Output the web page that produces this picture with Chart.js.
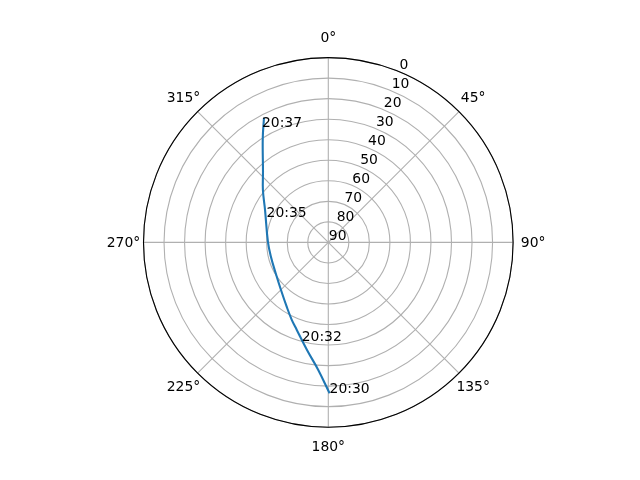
<!DOCTYPE html>
<html><head><meta charset="utf-8">
<script src="https://cdn.jsdelivr.net/npm/chart.js@4/dist/chart.umd.min.js"></script>
<style>html,body{margin:0;padding:0;background:#fff;}canvas{display:block}</style>
</head><body>
<canvas id="c" width="640" height="480"></canvas>
<script>
// Satellite pass track (azimuth in degrees clockwise from north, elevation in degrees)
const trackAzimuth   = [179.5, 184.5, 191.2, 199.8, 205.4, 212.9, 224.8, 239.6, 256.0, 270.4, 297.1, 308.7, 317.3, 327.8, 332.7];
const trackElevation = [16.5,  27.7,  36.6,  44.7,  48.4,  52.7,  57.3,  60.3,  61.2,  60.6,  55.4,  49.2,  43.1,  30.1,  21.7];
// Time annotations
const timeLabels     = ['20:30', '20:32', '20:35', '20:37'];
const labelAzimuth   = [179.5, 195.1, 292.3, 330.2];
const labelElevation = [16.5, 40.4, 57.5, 25.0];
// Axis ticks
const radialTicks = [0, 10, 20, 30, 40, 50, 60, 70, 80, 90];
const thetaTicks  = [0, 45, 90, 135, 180, 225, 270, 315];
const radialLabelAngle = 22.5;

const FONT = '13.9px "DejaVu Sans"';

function toXY(az, el) {
  const r = 90 - el;
  const a = az * Math.PI / 180;
  return { x: r * Math.sin(a), y: r * Math.cos(a) };
}

const trackData = trackAzimuth.map((az, i) => toXY(az, trackElevation[i]));

const polarPlugin = {
  id: 'polarGrid',
  beforeDatasetsDraw(chart) {
    const { ctx, scales: { x, y } } = chart;
    const cx = x.getPixelForValue(0), cy = y.getPixelForValue(0);
    ctx.save();
    ctx.strokeStyle = '#b0b0b0';
    ctx.lineWidth = 1.1;
    radialTicks.forEach(v => {
      const d = 90 - v;
      if (d <= 0) return;
      const rp = x.getPixelForValue(d) - cx;
      ctx.beginPath();
      ctx.arc(cx, cy, rp, 0, 2 * Math.PI);
      ctx.stroke();
    });
    thetaTicks.forEach(t => {
      const p = toXY(t, 0);
      ctx.beginPath();
      ctx.moveTo(cx, cy);
      ctx.lineTo(x.getPixelForValue(p.x), y.getPixelForValue(p.y));
      ctx.stroke();
    });
    ctx.restore();
  },
  afterDatasetsDraw(chart) {
    const { ctx, scales: { x, y } } = chart;
    const cx = x.getPixelForValue(0), cy = y.getPixelForValue(0);
    const R = x.getPixelForValue(90) - cx;
    ctx.save();
    // spine
    ctx.strokeStyle = '#000';
    ctx.lineWidth = 1.1;
    ctx.beginPath();
    ctx.arc(cx, cy, R, 0, 2 * Math.PI);
    ctx.stroke();
    ctx.fillStyle = '#000';
    ctx.font = FONT;
    // radial tick labels
    ctx.textAlign = 'left';
    ctx.textBaseline = 'alphabetic';
    radialTicks.forEach(v => {
      const p = toXY(radialLabelAngle, v);
      ctx.fillText(String(v), x.getPixelForValue(p.x) + 0.5, y.getPixelForValue(p.y) - 2.5);
    });
    // theta tick labels
    ctx.textAlign = 'center';
    ctx.textBaseline = 'middle';
    thetaTicks.forEach(t => {
      const a = t * Math.PI / 180;
      const rr = R + 20;
      ctx.fillText(t + '°', cx + rr * Math.sin(a), cy - rr * Math.cos(a) + 0.5);
    });
    // time annotations
    ctx.textAlign = 'left';
    ctx.textBaseline = 'alphabetic';
    timeLabels.forEach((lbl, i) => {
      const p = toXY(labelAzimuth[i], labelElevation[i]);
      ctx.fillText(lbl, x.getPixelForValue(p.x), y.getPixelForValue(p.y));
    });
    ctx.restore();
  }
};

new Chart(document.getElementById('c'), {
  type: 'scatter',
  data: {
    datasets: [{
      data: trackData,
      showLine: true,
      borderColor: '#1f77b4',
      borderWidth: 2.1,
      pointRadius: 0,
      tension: 0.4,
      fill: false
    }]
  },
  options: {
    responsive: false,
    maintainAspectRatio: false,
    animation: false,
    layout: { padding: { left: 143.5, right: 126.9, top: 57.6, bottom: 52.8 } },
    plugins: { legend: { display: false }, tooltip: { enabled: false } },
    scales: {
      x: { type: 'linear', min: -90, max: 90, display: false },
      y: { type: 'linear', min: -90, max: 90, display: false }
    }
  },
  plugins: [polarPlugin]
});
</script>
</body></html>
